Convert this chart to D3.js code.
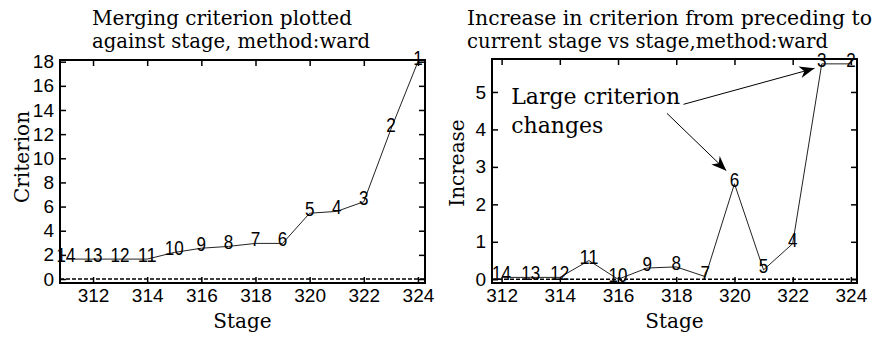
<!DOCTYPE html>
<html>
<head>
<meta charset="utf-8">
<script src="https://cdn.jsdelivr.net/npm/d3@7"></script>
<style>
  body { margin: 0; background: #fff; }
  svg { display: block; }
  .title, .axis-label, .note { font-family: 'DejaVu Serif', serif; fill: #000; }
  .tick-label { font-family: 'Liberation Sans', sans-serif; font-size: 19px; fill: #000; }
  .point-label { font-family: 'Liberation Sans', sans-serif; font-size: 20px; fill: #000; }
</style>
</head>
<body>
<svg id="chart" width="873" height="338"></svg>
<script>
// left panel: merging criterion per stage
const leftStages = [311, 312, 313, 314, 315, 316, 317, 318, 319, 320, 321, 322, 323, 324];
const leftCriterion = [1.65, 1.65, 1.65, 1.65, 2.2, 2.55, 2.7, 2.95, 2.95, 5.45, 5.6, 6.4, 12.4, 18.0];
const leftLabels = ['14', '13', '12', '11', '10', '9', '8', '7', '6', '5', '4', '3', '2', '1'];
const leftXTicks = [312, 314, 316, 318, 320, 322, 324];
const leftYTicks = [0, 2, 4, 6, 8, 10, 12, 14, 16, 18];

// right panel: increase from preceding stage
const rightStages = [312, 313, 314, 315, 316, 317, 318, 319, 320, 321, 322, 323, 324];
const rightIncrease = [0.05, 0.05, 0.05, 0.5, 0.0, 0.3, 0.33, 0.07, 2.55, 0.25, 0.95, 5.75, 5.75];
const rightLabels = ['14', '13', '12', '11', '10', '9', '8', '7', '6', '5', '4', '3', '2'];
const rightXTicks = [312, 314, 316, 318, 320, 322, 324];
const rightYTicks = [0, 1, 2, 3, 4, 5];

// annotation text and arrows (data units of right panel)
const noteLines = ['Large criterion', 'changes'];
const noteArrows = [
    { from: [318.25, 4.67], to: [322.75, 5.63] },
    { from: [317.68, 4.43], to: [319.72, 2.9] }
];

const TICK = 6;
const svg = d3.select('#chart');

svg.append('defs')
    .append('marker')
    .attr('id', 'head')
    .attr('viewBox', '0 0 10 10')
    .attr('refX', 10)
    .attr('refY', 5)
    .attr('markerWidth', 15)
    .attr('markerHeight', 15)
    .attr('markerUnits', 'userSpaceOnUse')
    .attr('orient', 'auto')
    .append('path')
    .attr('d', 'M0,1 L10,5 L0,9 L3,5 Z')
    .attr('fill', '#000');

function drawPanel(cfg) {
    const { box, xDomain, yDomain, xs, ys, labels, xTicks, yTicks } = cfg;
    const g = svg.append('g');

    const x = d3.scaleLinear().domain(xDomain).range([box.left, box.right]);
    const y = d3.scaleLinear().domain(yDomain).range([box.bottom, box.top]);

    // dashed zero line
    g.append('line')
        .attr('x1', box.left)
        .attr('x2', box.right)
        .attr('y1', y(0))
        .attr('y2', y(0))
        .attr('stroke', '#000')
        .attr('stroke-width', 1.5)
        .attr('stroke-dasharray', '4,2');

    // inward ticks on all four sides, labels bottom / left
    const axes = [
        { axis: d3.axisBottom(x), at: `translate(0,${box.bottom})`, ticks: xTicks, lab: true },
        { axis: d3.axisTop(x), at: `translate(0,${box.top})`, ticks: xTicks, lab: false },
        { axis: d3.axisLeft(y), at: `translate(${box.left},0)`, ticks: yTicks, lab: true },
        { axis: d3.axisRight(y), at: `translate(${box.right},0)`, ticks: yTicks, lab: false }
    ];
    axes.forEach((a) => {
        const el = g.append('g')
            .attr('transform', a.at)
            .call(a.axis.tickValues(a.ticks).tickSizeInner(-TICK).tickSizeOuter(0)
                .tickPadding(6).tickFormat(a.lab ? d3.format('d') : ''));
        el.select('.domain').remove();
        el.selectAll('.tick line').attr('stroke', '#000').attr('stroke-width', 1.5);
        el.selectAll('.tick text').attr('class', 'tick-label');
    });

    // box
    g.append('rect')
        .attr('x', box.left)
        .attr('y', box.top)
        .attr('width', box.right - box.left)
        .attr('height', box.bottom - box.top)
        .attr('fill', 'none')
        .attr('stroke', '#000')
        .attr('stroke-width', 2);

    const pts = xs.map((s, i) => ({ s, v: ys[i], label: labels[i] }));

    g.append('path')
        .datum(pts)
        .attr('fill', 'none')
        .attr('stroke', '#222')
        .attr('stroke-width', 1)
        .attr('d', d3.line().x((d) => x(d.s)).y((d) => y(d.v)));

    // narrow digits: squeeze each label to ~9.5px a glyph, sit a bit above the point
    g.selectAll('.point-label')
        .data(pts)
        .join('text')
        .attr('class', 'point-label')
        .attr('x', (d) => x(d.s))
        .attr('y', (d) => y(d.v))
        .attr('dy', -4)
        .attr('text-anchor', 'middle')
        .attr('dominant-baseline', 'central')
        .attr('textLength', (d) => d.label.length * 9.5)
        .attr('lengthAdjust', 'spacingAndGlyphs')
        .text((d) => d.label);

    // titles, left aligned
    g.append('text')
        .attr('class', 'title')
        .attr('font-size', 20)
        .selectAll('tspan')
        .data(cfg.title)
        .join('tspan')
        .attr('x', cfg.titleX)
        .attr('y', (d, i) => 25 + i * 23)
        .attr('textLength', (d, i) => cfg.titleWidths[i])
        .attr('lengthAdjust', 'spacingAndGlyphs')
        .text((d) => d);

    g.append('text')
        .attr('class', 'axis-label')
        .attr('x', (box.left + box.right) / 2)
        .attr('y', 328)
        .attr('text-anchor', 'middle')
        .attr('font-size', 20)
        .text(cfg.xLabel);

    g.append('text')
        .attr('class', 'axis-label')
        .attr('transform', `translate(${cfg.yLabelX},${cfg.yLabelY}) rotate(-90)`)
        .attr('text-anchor', 'middle')
        .attr('font-size', 20)
        .text(cfg.yLabel);

    return { x, y, g };
}

drawPanel({
    box: { left: 60, right: 425, top: 60, bottom: 283 },
    xDomain: [310.78, 324.26],
    yDomain: [-0.33, 18.14],
    xs: leftStages,
    ys: leftCriterion,
    labels: leftLabels,
    xTicks: leftXTicks,
    yTicks: leftYTicks,
    title: ['Merging criterion plotted', 'against stage, method:ward'],
    titleX: 92,
    titleWidths: [260, 278],
    xLabel: 'Stage',
    yLabel: 'Criterion',
    yLabelX: 29,
    yLabelY: 157
});

const right = drawPanel({
    box: { left: 492, right: 857, top: 59, bottom: 283 },
    xDomain: [311.67, 324.21],
    yDomain: [-0.1, 5.88],
    xs: rightStages,
    ys: rightIncrease,
    labels: rightLabels,
    xTicks: rightXTicks,
    yTicks: rightYTicks,
    title: ['Increase in criterion from preceding to', 'current stage vs stage,method:ward'],
    titleX: 467,
    titleWidths: [405, 361],
    xLabel: 'Stage',
    yLabel: 'Increase',
    yLabelX: 464,
    yLabelY: 163
});

// annotation
right.g.append('text')
    .attr('class', 'note')
    .attr('font-size', 22)
    .selectAll('tspan')
    .data(noteLines)
    .join('tspan')
    .attr('x', right.x(312.33))
    .attr('y', (d, i) => right.y(4.69) + i * 29)
    .text((d) => d);

right.g.selectAll('.arrow')
    .data(noteArrows)
    .join('line')
    .attr('class', 'arrow')
    .attr('x1', (d) => right.x(d.from[0]))
    .attr('y1', (d) => right.y(d.from[1]))
    .attr('x2', (d) => right.x(d.to[0]))
    .attr('y2', (d) => right.y(d.to[1]))
    .attr('stroke', '#000')
    .attr('stroke-width', 1)
    .attr('marker-end', 'url(#head)');
</script>
</body>
</html>
